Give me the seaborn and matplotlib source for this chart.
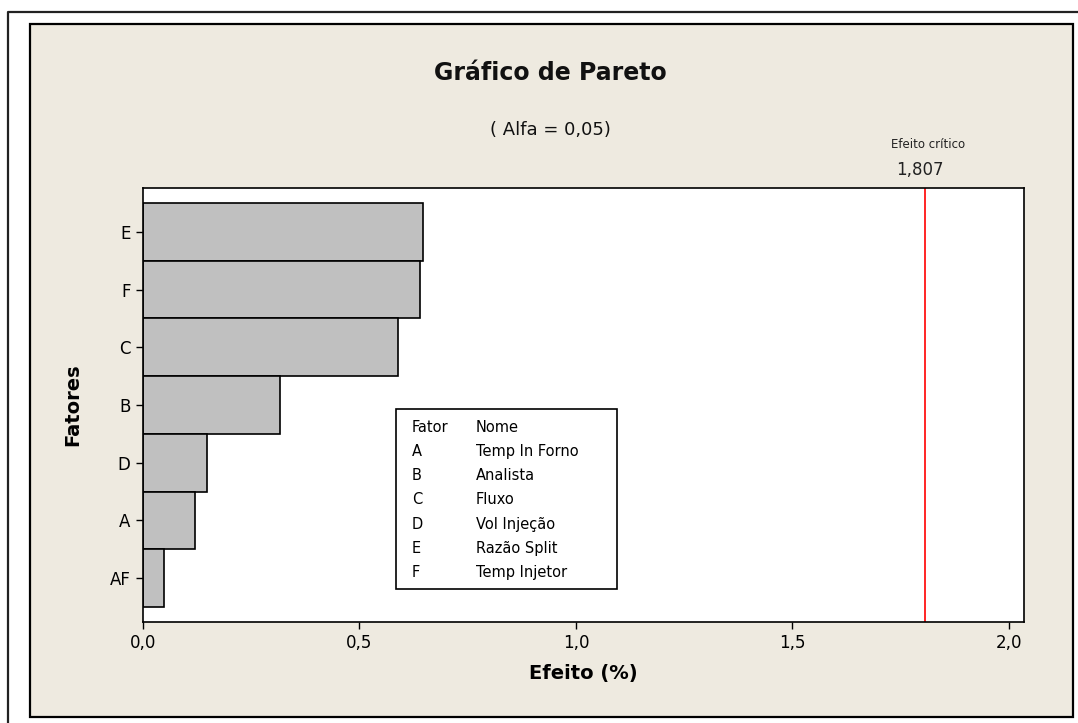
import pandas as pd
import matplotlib
matplotlib.use("Agg")
from matplotlib import pyplot as plt
from matplotlib.patches import Rectangle
from matplotlib.lines import Line2D
from matplotlib.ticker import FuncFormatter
import seaborn as sns

#======== Data ========#
fatores = ['E', 'F', 'C', 'B', 'D', 'A', 'AF']
efeito = [0.647, 0.640, 0.589, 0.316, 0.148, 0.120, 0.049]
efeito_critico = 1.807

legenda_fator = ['A', 'B', 'C', 'D', 'E', 'F']
legenda_nome = ['Temp In Forno', 'Analista', 'Fluxo', 'Vol Injeção', 'Razão Split', 'Temp Injetor']

df = pd.DataFrame({'Fator': fatores, 'Efeito': efeito})

sns.set_theme(style='white')
plt.rcParams['font.family'] = ['DejaVu Sans']

W, H = 1078, 723
fig = plt.figure(figsize=(W / 100, H / 100), dpi=100, facecolor='white')

# page frame + beige panel
def px(x, y):
    return x / W, 1 - y / H

fig.add_artist(Line2D([px(8, 723)[0], px(8, 12)[0], 1.0],
                      [px(8, 723)[1], px(8, 12)[1], px(8, 12)[1]],
                      color='#222222', lw=1.6, transform=fig.transFigure))
x0, y0 = px(30, 717)
x1, y1 = px(1073, 24)
fig.add_artist(Rectangle((x0, y0), x1 - x0, y1 - y0, facecolor='#EEEAE0',
                         edgecolor='black', lw=1.6, transform=fig.transFigure, zorder=0))

ax = fig.add_axes([143 / W, 1 - 622 / H, (1024 - 143) / W, (622 - 188) / H])
ax.set_facecolor('white')

sns.barplot(data=df, x='Efeito', y='Fator', orient='h', color='#C0C0C0',
            saturation=1, width=1.0, edgecolor='black', linewidth=1.2, ax=ax)
ax.axvline(efeito_critico, color='red', lw=1.2)

ax.set_xlim(0, 2.035)
ax.set_ylim(6.76, -0.76)
ax.set_xticks([0, 0.5, 1.0, 1.5, 2.0])
ax.xaxis.set_major_formatter(FuncFormatter(lambda v, p: f'{v:.1f}'.replace('.', ',')))
ax.tick_params(axis='both', direction='out', length=5, width=1, color='black',
               labelsize=12, bottom=True, left=True, pad=4, labelcolor='black')
for s in ax.spines.values():
    s.set_color('black')
    s.set_linewidth(1.2)

ax.set_xlabel('Efeito (%)', fontsize=14, fontweight='bold', labelpad=8, color='black')
ax.set_ylabel('Fatores', fontsize=14, fontweight='bold', labelpad=20, color='black')

# titles
fig.text(550 / W, 1 - 73 / H, 'Gráfico de Pareto', ha='center', va='center',
         fontsize=17, fontweight='bold', color='#111111')
fig.text(550 / W, 1 - 130 / H, '( Alfa = 0,05)', ha='center', va='center',
         fontsize=13, color='#111111')

# critical effect label
fig.text(928 / W, 1 - 145 / H, 'Efeito crítico', ha='center', va='center',
         fontsize=8.5, color='#222222')
fig.text(920 / W, 1 - 170 / H, f'{efeito_critico:.3f}'.replace('.', ','),
         ha='center', va='center', fontsize=12, color='#222222')

# factor name table
bx0, by0 = px(396, 589)
bx1, by1 = px(617, 409)
fig.add_artist(Rectangle((bx0, by0), bx1 - bx0, by1 - by0, facecolor='white',
                         edgecolor='black', lw=1.2, transform=fig.transFigure, zorder=5))
rows = [('Fator', 'Nome')] + list(zip(legenda_fator, legenda_nome))
for i, (f, n) in enumerate(rows):
    yy = 1 - (427 + i * 24.3) / H
    fig.text(412 / W, yy, f, ha='left', va='center', fontsize=10.5, color='black', zorder=6)
    fig.text(476 / W, yy, n, ha='left', va='center', fontsize=10.5, color='black', zorder=6)

fig.savefig('out.png', dpi=100, facecolor='white')
